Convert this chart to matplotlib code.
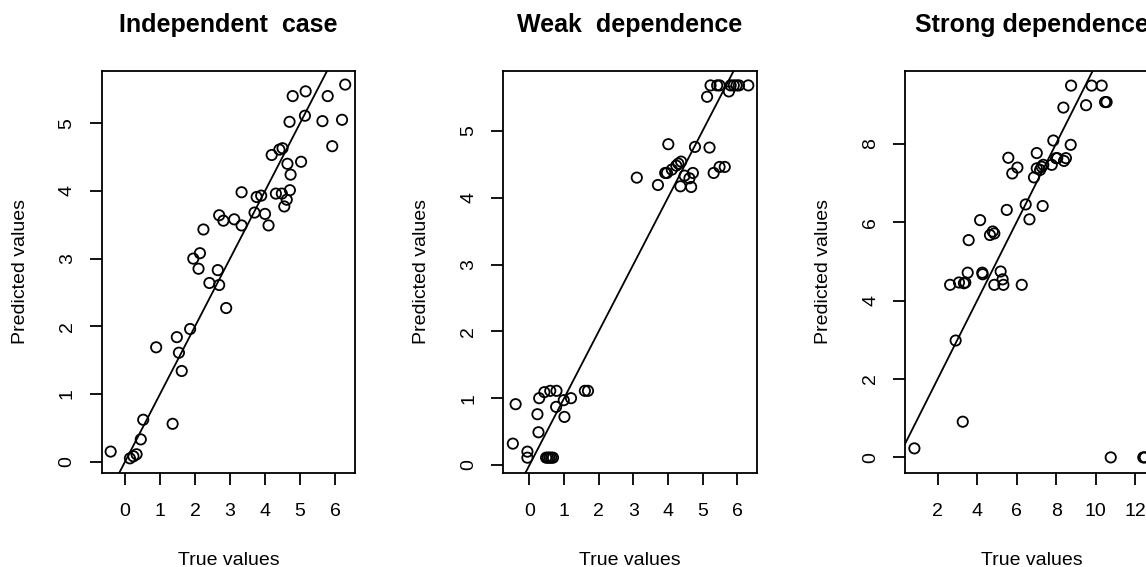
import numpy as np
import matplotlib
matplotlib.use("Agg")
import matplotlib.pyplot as plt

plt.rcParams['font.family'] = ['Liberation Sans', 'DejaVu Sans']

# panel 1: independent case
ind_true = [-0.41, 0.14, 0.24, 0.33, 0.45, 0.52, 0.89, 1.36, 1.48, 1.54,
            1.62, 1.86, 1.95, 2.14, 2.10, 2.24, 2.41, 2.65, 2.69, 2.89,
            2.69, 2.81, 3.12, 3.33, 3.33, 3.70, 3.76, 3.89, 4.00, 4.10,
            4.19, 4.41, 4.50, 4.31, 4.48, 4.55, 4.62, 4.71, 4.64, 4.73,
            4.70, 4.79, 5.03, 5.14, 5.16, 5.64, 5.79, 5.92, 6.20, 6.29]
ind_pred = [0.15, 0.05, 0.08, 0.11, 0.33, 0.62, 1.69, 0.56, 1.84, 1.61,
            1.34, 1.96, 3.00, 3.08, 2.85, 3.43, 2.64, 2.83, 2.61, 2.27,
            3.64, 3.56, 3.58, 3.98, 3.49, 3.68, 3.91, 3.93, 3.66, 3.49,
            4.53, 4.61, 4.63, 3.96, 3.96, 3.77, 3.87, 4.01, 4.40, 4.24,
            5.02, 5.40, 4.43, 5.11, 5.47, 5.03, 5.40, 4.66, 5.05, 5.57]

# panel 2: weak dependence
weak_true = [-0.48, -0.40, -0.06, -0.06, 0.26, 0.23, 0.28, 0.43, 0.48, 0.53,
             0.58, 0.63, 0.68, 0.60, 0.78, 0.77, 0.99, 1.01, 1.20, 1.60,
             1.69, 3.10, 3.71, 3.92, 3.97, 4.01, 4.11, 4.24, 4.30, 4.38,
             4.36, 4.48, 4.62, 4.67, 4.72, 4.78, 5.13, 5.20, 5.23, 5.32,
             5.42, 5.49, 5.49, 5.64, 5.76, 5.81, 5.90, 5.98, 6.05, 6.32]
weak_pred = [0.32, 0.91, 0.20, 0.11, 0.49, 0.76, 1.00, 1.09, 0.11, 0.11,
             0.11, 0.11, 0.11, 1.11, 1.11, 0.87, 0.97, 0.72, 1.00, 1.11,
             1.11, 4.30, 4.19, 4.37, 4.37, 4.80, 4.42, 4.48, 4.51, 4.54,
             4.17, 4.33, 4.29, 4.16, 4.37, 4.76, 5.51, 4.75, 5.68, 4.37,
             5.68, 5.68, 4.46, 4.46, 5.59, 5.68, 5.68, 5.68, 5.68, 5.68]

# panel 3: strong dependence
strong_true = [0.82, 2.91, 3.27, 2.63, 3.08, 3.33, 3.40, 3.52, 3.57, 4.15,
               4.26, 4.28, 4.65, 4.79, 4.87, 4.87, 5.19, 5.29, 5.33, 5.50,
               5.58, 5.78, 6.04, 6.26, 6.46, 6.65, 6.88, 7.02, 7.02, 7.19,
               7.27, 7.32, 7.35, 7.78, 7.86, 8.00, 8.06, 8.40, 8.50, 8.37,
               8.74, 8.76, 9.52, 9.80, 10.31, 10.48, 10.56, 10.77, 12.42, 12.50]
strong_pred = [0.23, 2.98, 0.91, 4.40, 4.46, 4.44, 4.46, 4.71, 5.54, 6.05,
               4.71, 4.67, 5.67, 5.76, 5.71, 4.40, 4.74, 4.54, 4.40, 6.31,
               7.64, 7.24, 7.39, 4.40, 6.45, 6.07, 7.14, 7.76, 7.37, 7.33,
               7.41, 6.41, 7.46, 7.46, 8.08, 7.63, 7.63, 7.56, 7.63, 8.92,
               7.97, 9.48, 8.98, 9.48, 9.48, 9.06, 9.06, 0.00, 0.00, 0.00]

panels = [
    ("Independent  case", ind_true, ind_pred, (-0.666, 6.57), (-0.162, 5.775), range(0, 7), range(0, 6)),
    ("Weak  dependence", weak_true, weak_pred, (-0.756, 6.56), (-0.115, 5.90), range(0, 7), range(0, 6)),
    ("Strong dependence", strong_true, strong_pred, (0.344, 13.18), (-0.39, 9.86), range(2, 14, 2), range(0, 10, 2)),
]
lefts = [101.7, 503.3, 905.0]

W, H = 1146, 567
fig = plt.figure(figsize=(W / 100, H / 100), dpi=100)

for (title, xt, yp, xl, yl, xticks, yticks), left in zip(panels, lefts):
    # last panel runs off the right edge, like the original
    ax = fig.add_axes([left / W, (H - 472.7) / H, 253.3 / W, 402.0 / H])
    ax.scatter(xt, yp, s=55, facecolors='none', edgecolors='black', linewidths=1.3, zorder=3)
    ax.axline((0, 0), slope=1, color='black', lw=1.3)
    ax.set_xlim(*xl)
    ax.set_ylim(*yl)
    ax.set_xticks(list(xticks))
    ax.set_yticks(list(yticks))
    ax.tick_params(direction='out', length=8.7, width=1.3, labelsize=14)
    ax.tick_params(axis='x', pad=13)
    ax.tick_params(axis='y', pad=10)
    for lab in ax.get_yticklabels():
        lab.set_rotation(90)
        lab.set_va('center')
    for sp in ax.spines.values():
        sp.set_linewidth(1.3)
    ax.set_xlabel("True values", fontsize=14, labelpad=23)
    ax.set_ylabel("Predicted values", fontsize=14, labelpad=21.5)
    ax.set_title(title, fontsize=18, fontweight='bold', pad=28)

fig.savefig("out.png", dpi=100)
